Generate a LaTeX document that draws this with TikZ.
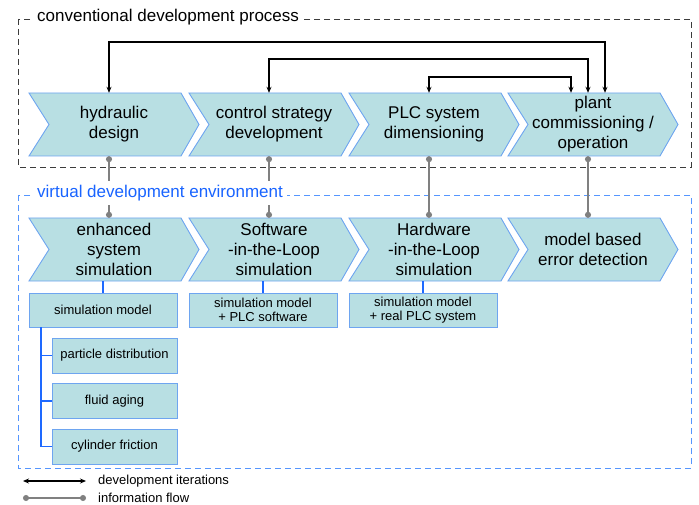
\documentclass[tikz,border=0pt]{standalone}
\usepackage{fontspec}
\setmainfont{Liberation Sans}
\usetikzlibrary{arrows.meta,calc}
\definecolor{chfill}{RGB}{184,223,227}
\definecolor{chdraw}{RGB}{110,165,240}
\definecolor{bline}{RGB}{30,105,255}
\definecolor{vdash}{RGB}{85,150,255}
\definecolor{vtitle}{RGB}{25,100,255}
\definecolor{gline}{RGB}{128,128,128}
\definecolor{cdash}{RGB}{60,60,60}
\tikzset{
  chevbox/.style={fill=chfill,draw=chdraw,line width=0.9pt,line join=miter},
  chevtext/.style={minimum width=170pt,minimum height=63pt,inner sep=0pt,align=center,font=\fontsize{17}{20}\selectfont},
  smallbox/.style={fill=chfill,draw=chdraw,line width=0.9pt,minimum height=34pt,inner sep=0pt,align=center,font=\fontsize{13}{14.7}\selectfont},
  subbox/.style={smallbox,minimum width=125pt,minimum height=35pt},
  devarr/.style={line width=1.2pt,black,-{Stealth[length=6pt,width=5pt]}},
  devboth/.style={line width=1.2pt,black,{Stealth[length=6pt,width=5pt]}-{Stealth[length=6pt,width=5pt]}},
  infoline/.style={line width=1.4pt,gline,{Circle[length=6pt]}-{Circle[length=6pt]}},
  blueline/.style={line width=1.3pt,bline},
  convframe/.style={draw=cdash,line width=0.9pt,dash pattern=on 6pt off 4pt},
  virtframe/.style={draw=vdash,line width=0.9pt,dash pattern=on 6pt off 4pt},
  frametitle/.style={fill=white,inner sep=4pt,anchor=west,font=\fontsize{17}{20}\selectfont},
  legendtext/.style={anchor=west,inner sep=0pt,font=\fontsize{13}{15}\selectfont}
}
\newcommand\chevron[4]{%
  \filldraw[chevbox] (#2-85,#3-31.5) -- ++(152,0) -- ++(18,31.5) -- ++(-18,31.5) -- ++(-152,0) -- ++(20,-31.5) -- cycle;
  \node[chevtext] (#1) at (#2,#3) {#4};}
\begin{document}
\begin{tikzpicture}[x=1pt,y=-1pt]
\useasboundingbox[fill=white] (0,0) rectangle (699,505);
% frames
\draw[convframe] (18,19) rectangle (691,167);
\draw[virtframe] (18,195) rectangle (691,468);
% row 1
\chevron{c1}{114}{124.5}{hydraulic\\design}
\chevron{c2}{274}{124.5}{control strategy\\development}
\chevron{c3}{434}{124.5}{PLC system\\dimensioning}
\chevron{c4}{593}{124.5}{plant\\commissioning /\\operation}
% row 2
\chevron{v1}{114}{249.5}{enhanced\\system\\simulation}
\chevron{v2}{274}{249.5}{Software\\-in-the-Loop\\simulation}
\chevron{v3}{434}{249.5}{Hardware\\-in-the-Loop\\simulation}
\chevron{v4}{593}{249.5}{model based\\error detection}
% small boxes
\node[smallbox,minimum width=148pt] (b1) at (103,310) {simulation model};
\node[smallbox,minimum width=148pt] (b2) at (263,310) {simulation model\\+ PLC software};
\node[smallbox,minimum width=148pt] (b3) at (423,310) {simulation model\\+ real PLC system};
\node[subbox] (s1) at (114.5,355.5) {particle distribution};
\node[subbox] (s2) at (114.5,401) {fluid aging};
\node[subbox] (s3) at (114.5,446.5) {cylinder friction};
% titles
\node[frametitle] (t1) at (33,17) {conventional development process};
\node[frametitle,text=vtitle] (t2) at (33,193) {virtual development environment};
% blue connectors
\draw[blueline] (b1.north) -- (b1.north |- v1.south);
\draw[blueline] (b2.north) -- (b2.north |- v2.south);
\draw[blueline] (b3.north) -- (b3.north |- v3.south);
\coordinate (sx) at (41,0);
\draw[blueline] (b1.south -| sx) |- (s3.west);
\draw[blueline] (s1.west -| sx) -- (s1.west);
\draw[blueline] (s2.west -| sx) -- (s2.west);
% development iteration arrows
\coordinate (a1) at ([xshift=-5pt]c1.north);
\coordinate (a2) at ([xshift=-5pt]c2.north);
\coordinate (a3) at ([xshift=-5pt]c3.north);
\coordinate (a4a) at ([xshift=12pt]c4.north);
\coordinate (a4b) at ([xshift=-5pt]c4.north);
\coordinate (a4c) at ([xshift=-22pt]c4.north);
\draw[devboth] (a1) -- (a1 |- 0,42) -- (a4a |- 0,42) -- (a4a);
\draw[devboth] (a2) -- (a2 |- 0,59) -- (a4b |- 0,59) -- (a4b);
\draw[devboth] (a3) -- (a3 |- 0,77) -- (a4c |- 0,77) -- (a4c);
% information flow
\draw[infoline] ([xshift=-5pt]c1.south) -- ([xshift=-5pt]v1.north);
\draw[infoline] ([xshift=-5pt]c2.south) -- ([xshift=-5pt]v2.north);
\draw[infoline] ([xshift=-5pt]c3.south) -- ([xshift=-5pt]v3.north);
\draw[infoline] ([xshift=-5pt]c4.south) -- ([xshift=-5pt]v4.north);
% redraw title over info lines
\node[frametitle,text=vtitle] at (33,193) {virtual development environment};
% legend
\coordinate (la) at (23,481); \coordinate (lb) at (86,481);
\coordinate (lc) at (23,498); \coordinate (ld) at (86,498);
\draw[devboth] (la) -- (lb);
\draw[infoline] (lc) -- (ld);
\node[legendtext] (lt1) at (98,481) {development iterations};
\node[legendtext] (lt2) at (98,498) {information flow};
\end{tikzpicture}
\end{document}
